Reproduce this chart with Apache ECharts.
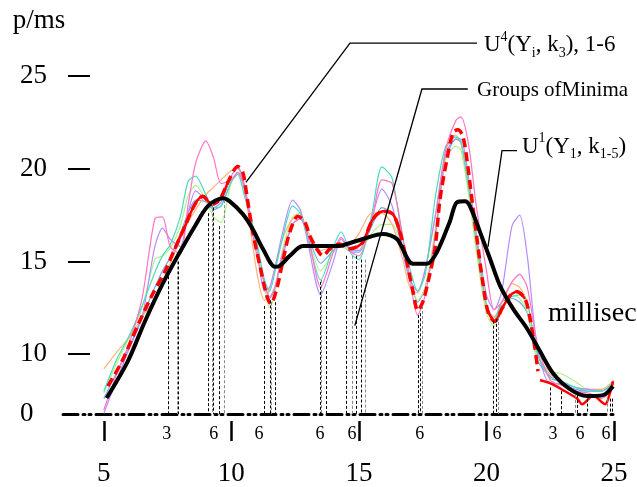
<!DOCTYPE html>
<html>
<head>
<meta charset="utf-8">
<script src="https://cdn.jsdelivr.net/npm/echarts@6.0.0/dist/echarts.min.js"></script>
<style>
html,body{margin:0;padding:0;background:#fff;}
#main{width:637px;height:487px;}
</style>
</head>
<body>
<div id="main"></div>
<script>
// axis ticks (the y axis is broken: "0" sits just below 10)
var xTicks = [5, 10, 15, 20, 25];
var yTicks = [10, 15, 20, 25];
var yZero = 6.77;

// small numbers under the axis (size of each group of minima)
var groupLabelX = [7.47, 9.31, 11.08, 13.47, 14.73, 17.39, 20.41, 22.61, 23.67, 24.69];
var groupLabelText = ['3', '6', '6', '6', '6', '6', '6', '3', '6', '6'];

// dashed drop lines from the minima down to the base line
var minimaX = [7.51, 7.86, 7.92, 9.08, 9.24, 9.3, 9.53, 9.71, 11.29, 11.51, 11.58, 11.71, 13.47, 13.54, 13.71,
  14.49, 14.75, 14.88, 15.1, 15.24, 17.33, 17.39, 17.5, 20.27, 20.4, 20.46, 22.49, 22.92, 23.47, 23.55, 23.94,
  24.73, 24.84, 24.92];
var minimaTop = [14.2, 15.0, 15.0, 17.6, 18.1, 17.9, 16.9, 18.3, 12.6, 12.9, 12.8, 12.8, 13.9, 14.0, 13.4,
  15.3, 15.3, 15.3, 15.1, 15.1, 12.1, 12.2, 12.6, 11.8, 11.9, 12.0, 8.2, 8.0, 7.8, 7.8, 7.6,
  7.6, 7.6, 7.6];

// U1(Y1, k1-5) thick black curve
var u1X = [5.11, 5.94, 6.61, 7.27, 7.9, 8.57, 9.08, 9.67, 9.94, 10.45, 10.84, 11.24, 11.71, 11.9, 12.29, 12.8,
  13.5, 14.25, 14.53, 15.16, 15.94, 16.49, 17.12, 17.67, 18.06, 18.57, 18.84, 19.16, 19.35, 19.75, 20.14,
  20.53, 21.04, 21.59, 22.1, 22.61, 23.27, 23.94, 24.57, 24.96];
var u1Y = [7.63, 9.61, 11.76, 13.69, 15.3, 16.9, 17.98, 18.41, 18.24, 17.55, 16.74, 15.67, 14.71, 14.76, 15.3, 15.83,
  15.83, 15.83, 15.94, 16.21, 16.48, 16.21, 14.87, 14.87, 15.51, 17.17, 18.19, 18.24, 17.98, 16.58, 15.14,
  13.69, 12.45, 11.38, 10.15, 8.97, 8.11, 7.74, 7.79, 8.27];

// U4(Yi, k3) red curve
var u4X = [5.16, 5.71, 6.33, 6.88, 7.39, 7.78, 8.18, 8.57, 8.88, 9.24, 9.55, 9.86, 10.25, 10.45, 10.61, 10.84,
  11.12, 11.39, 11.55, 11.78, 11.98, 12.29, 12.61, 12.88, 13.08, 13.35, 13.59, 13.86, 14.25, 14.57, 14.92,
  15.16, 15.55, 15.94, 16.33, 16.61, 16.88, 17.12, 17.31, 17.51, 17.71, 17.98, 18.18, 18.45, 18.69, 18.88,
  19.08, 19.27, 19.43, 19.63, 19.82, 20.06, 20.33, 20.61, 20.92, 21.2, 21.51, 21.71, 21.9, 22.02];
var u4Y = [8.27, 9.61, 11.54, 13.15, 14.44, 15.67, 16.9, 18.08, 18.51, 18.08, 18.35, 19.26, 20.12, 19.8, 18.51, 16.58,
  14.76, 13.15, 12.72, 13.53, 14.76, 16.58, 17.44, 17.12, 16.37, 15.67, 15.3, 15.67, 15.94, 15.67, 15.78,
  16.05, 17.28, 17.71, 17.55, 16.58, 14.97, 13.37, 12.35, 12.83, 13.9, 15.67, 18.35, 20.5, 21.94, 22.1,
  21.73, 20.12, 18.35, 16.21, 14.22, 12.29, 11.76, 12.45, 13.15, 13.37, 12.99, 11.92, 10.31, 9.08];
// solid red tail after the dashed one stops
var redTailX = [22.1, 22.49, 23.0, 23.55, 23.75, 24.18, 24.65, 24.84, 24.96];
var redTailY = [8.59, 8.43, 8.06, 7.6, 7.3, 7.75, 7.3, 7.9, 8.54];
// stretches where the red curve is drawn solid under the dashes
var redSolidFrom = [7.7, 14.9, 20.0];
var redSolidTo = [9.9, 16.7, 21.6];

// the six thin curves 1-6
var thinX = [5, 5.5, 6, 6.5, 7, 7.3, 7.6, 8, 8.3, 8.6, 9, 9.3, 9.6, 10, 10.25, 10.5, 11, 11.3, 11.5, 11.7,
  12, 12.4, 12.7, 13, 13.5, 14, 14.3, 14.7, 15, 15.5, 15.9, 16.3, 16.7, 17, 17.3, 17.6, 18, 18.4, 18.8, 19,
  19.3, 19.6, 20, 20.3, 20.6, 21, 21.3, 21.6, 22, 22.5, 23, 23.5, 24, 24.5, 25];
var blueY = [7.6, 9.0, 10.4, 12.0, 13.6, 14.5, 15.2, 16.5, 17.6, 18.3, 18.2, 17.8, 18.0, 19.3, 19.8, 19.0, 15.8, 13.8, 13.0, 13.5,
  15.2, 17.0, 17.3, 16.4, 14.9, 15.6, 15.9, 15.5, 15.5, 16.9, 17.9, 17.6, 15.8, 14.2, 12.8, 13.6, 16.5, 20.5, 21.6, 21.4,
  19.0, 16.0, 12.6, 12.0, 12.6, 13.0, 12.8, 12.2, 9.7, 8.8, 8.4, 8.1, 8.0, 8.0, 8.5];
var greenY = [7.9, 9.5, 10.9, 12.5, 15.1, 15.3, 15.7, 16.9, 18.5, 19.1, 18.3, 17.4, 17.1, 19.3, 19.7, 18.9, 15.9, 13.6, 12.5, 13.2,
  15.6, 17.4, 17.6, 16.3, 14.5, 15.5, 15.8, 15.6, 15.6, 16.5, 17.0, 17.0, 15.6, 14.0, 12.9, 13.6, 16.8, 20.5, 21.2, 21.0,
  18.6, 15.6, 12.2, 11.5, 12.5, 13.2, 13.0, 12.3, 9.7, 9.1, 8.9, 8.5, 8.1, 8.1, 8.4];
var orangeY = [9.2, 10.1, 10.9, 12.0, 13.0, 13.8, 14.9, 16.2, 17.1, 17.8, 18.6, 19.0, 19.4, 19.9, 20.0, 19.0, 14.4, 12.9, 13.5, 14.6,
  16.2, 17.3, 17.4, 16.6, 15.6, 15.8, 15.9, 16.0, 16.5, 17.6, 17.6, 17.0, 15.2, 13.6, 13.3, 14.5, 17.5, 21.0, 21.8, 21.4,
  19.0, 16.0, 12.5, 12.0, 12.8, 13.8, 13.6, 12.8, 10.0, 8.9, 8.5, 8.2, 8.1, 8.1, 8.6];
var purpleY = [6.8, 8.6, 10.3, 12.0, 15.8, 16.8, 16.2, 15.8, 17.6, 18.8, 18.3, 17.9, 18.2, 19.6, 20.1, 19.2, 15.6, 13.4, 13.6, 14.6,
  16.5, 18.3, 17.8, 16.0, 13.2, 15.0, 16.2, 15.6, 15.6, 17.3, 18.9, 18.0, 15.6, 14.0, 13.4, 14.6, 17.5, 20.8, 21.6, 21.6,
  19.5, 16.5, 13.2, 12.4, 13.4, 16.9, 17.5, 15.3, 10.3, 8.4, 8.4, 8.2, 8.1, 8.0, 8.4];
var tealY = [8.0, 9.7, 11.0, 12.6, 14.4, 15.3, 15.9, 17.4, 19.3, 19.6, 18.6, 17.9, 18.0, 19.3, 19.7, 18.6, 16.0, 14.0, 13.4, 14.4,
  16.2, 18.0, 17.6, 16.2, 14.0, 15.8, 16.6, 15.4, 15.1, 17.5, 20.1, 19.5, 16.3, 14.6, 13.4, 14.3, 18.5, 21.2, 21.7, 21.5,
  19.0, 16.3, 12.7, 11.8, 12.8, 13.1, 13.2, 12.8, 10.0, 8.7, 8.5, 8.2, 8.0, 8.0, 8.5];
var pinkY = [7.0, 8.9, 10.6, 13.0, 17.3, 17.4, 15.8, 15.4, 18.0, 20.3, 21.5, 20.6, 19.2, 19.4, 19.8, 19.0, 15.3, 13.8, 13.1, 13.6,
  15.4, 17.0, 17.3, 16.4, 13.6, 15.5, 16.3, 15.5, 15.3, 17.2, 19.4, 19.2, 16.5, 14.0, 12.1, 13.2, 16.5, 21.0, 22.6, 22.8,
  21.3, 18.0, 14.5, 12.4, 12.8, 13.9, 14.3, 13.6, 10.5, 8.6, 8.3, 8.0, 7.9, 7.6, 8.2];

// annotation anchors, in data units
var leadU4 = [[19.63, 26.77], [14.65, 26.77], [10.57, 19.26]];
var leadMinima = [[19.27, 24.3], [17.47, 24.3], [14.84, 11.54]];
var leadU1 = [[21.2, 20.98], [20.61, 20.98], [20.06, 15.78]];

var serif = '"Liberation Serif", "Times New Roman", serif';

function pairs(xs, ys) {
  return xs.map(function (x, i) { return [x, ys[i]]; });
}

function inSolid(x) {
  for (var k = 0; k < redSolidFrom.length; k++) {
    if (x >= redSolidFrom[k] && x <= redSolidTo[k]) return true;
  }
  return false;
}

var thinLines = [
  { data: blueY, color: '#72a6f0' },
  { data: greenY, color: '#b2f28a' },
  { data: orangeY, color: '#ffb27c' },
  { data: purpleY, color: '#b68cff' },
  { data: tealY, color: '#48dcc0' },
  { data: pinkY, color: '#ff74c4' }
];

var chart = echarts.init(document.getElementById('main'));

var series = [];

// drop lines of the minima groups
series.push({
  type: 'line',
  data: [],
  silent: true,
  markLine: {
    silent: true,
    symbol: ['none', 'none'],
    label: { show: false },
    animation: false,
    data: minimaX.map(function (x, i) {
      return [
        { coord: [x, minimaTop[i]], lineStyle: { color: i % 3 === 1 ? '#888' : '#000', width: 1, type: [3, 2] } },
        { coord: [x, yZero] }
      ];
    })
  }
});

thinLines.forEach(function (t) {
  series.push({
    type: 'line',
    data: pairs(thinX, t.data),
    symbol: 'none',
    smooth: 0.25,
    lineStyle: { color: t.color, width: 1.2 },
    z: 2
  });
});

// solid red pieces + tail
var redSolid = pairs(u4X, u4Y).map(function (p) {
  return inSolid(p[0]) ? p : [p[0], '-'];
}).concat(pairs(redTailX, redTailY));
redSolid[u4X.length - 1] = [u4X[u4X.length - 1], '-'];

series.push({
  type: 'line',
  data: redSolid,
  symbol: 'none',
  smooth: 0.3,
  connectNulls: false,
  lineStyle: { color: '#ff0000', width: 2.5 },
  z: 3
});
series.push({
  type: 'line',
  data: pairs(u4X, u4Y),
  symbol: 'none',
  smooth: 0.3,
  lineStyle: { color: '#ff0000', width: 3.5, type: [9, 5] },
  z: 3
});
series.push({
  type: 'line',
  data: pairs(u1X, u1Y),
  symbol: 'none',
  smooth: 0.3,
  lineStyle: { color: '#000', width: 4 },
  z: 4
});

var option = {
  animation: false,
  backgroundColor: '#fff',
  grid: { left: 63, right: 23, top: 76, bottom: 71 },
  xAxis: [
    {
      type: 'value', min: 3.4, max: 25,
      axisLine: { lineStyle: { color: '#000', width: 3, type: [15, 5, 2, 4, 2, 5] } },
      axisTick: { show: false },
      splitLine: { show: false },
      axisLabel: { customValues: xTicks, margin: 46, color: '#000', fontSize: 27, fontFamily: serif }
    },
    {
      type: 'value', min: 3.4, max: 25, position: 'bottom', offset: 7,
      axisLine: { show: false },
      axisTick: { show: true, customValues: xTicks, length: 20, lineStyle: { color: '#000', width: 2.5 } },
      splitLine: { show: false },
      axisLabel: {
        customValues: groupLabelX, margin: 4, color: '#000', fontSize: 18, fontFamily: serif,
        formatter: function (v) {
          var i = groupLabelX.indexOf(v);
          return i < 0 ? '' : groupLabelText[i];
        }
      }
    }
  ],
  yAxis: {
    type: 'value', min: yZero, max: 25, offset: -27,
    axisLine: { show: false },
    axisTick: { show: true, customValues: yTicks, length: 22, lineStyle: { color: '#000', width: 2 } },
    splitLine: { show: false },
    axisLabel: {
      customValues: [yZero].concat(yTicks), align: 'left', margin: 70,
      color: '#000', fontSize: 27, fontFamily: serif,
      formatter: function (v) { return v === yZero ? '0' : String(v); }
    }
  },
  series: series
};
chart.setOption(option);

// annotations placed from data anchors
function px(p) { return chart.convertToPixel({ xAxisIndex: 0, yAxisIndex: 0 }, p); }

var rich = {
  m: { fontSize: 23, fontFamily: serif, color: '#000', lineHeight: 30, verticalAlign: 'middle' },
  sup: { fontSize: 14, fontFamily: serif, color: '#000', lineHeight: 30, verticalAlign: 'top' },
  sub: { fontSize: 14, fontFamily: serif, color: '#000', lineHeight: 30, verticalAlign: 'bottom' }
};

function leader(points) {
  return { type: 'polyline', z: 100, silent: true, shape: { points: points.map(px) }, style: { stroke: '#000', lineWidth: 1.3, fill: null } };
}
function label(at, text, style) {
  var p = px(at);
  return { type: 'text', z: 100, silent: true, x: p[0], y: p[1], style: Object.assign({ text: text, align: 'left', verticalAlign: 'middle', fill: '#000' }, style) };
}

chart.setOption({
  graphic: [
    leader(leadU4),
    leader(leadMinima),
    leader(leadU1),
    label([19.9, 26.66], '{m|U}{sup|4}{m|(Y}{sub|i}{m|, k}{sub|3}{m|), 1-6}', { rich: rich }),
    label([19.63, 24.2], 'Groups ofMinima', { fontSize: 21, fontFamily: serif }),
    label([21.39, 21.19], '{m|U}{sup|1}{m|(Y}{sub|1}{m|, k}{sub|1-5}{m|)}', { rich: rich }),
    label([22.41, 12.19], 'millisec', { fontSize: 28, fontFamily: serif }),
    label([1.43, 27.98], 'p/ms', { fontSize: 27, fontFamily: serif })
  ]
});
</script>
</body>
</html>
